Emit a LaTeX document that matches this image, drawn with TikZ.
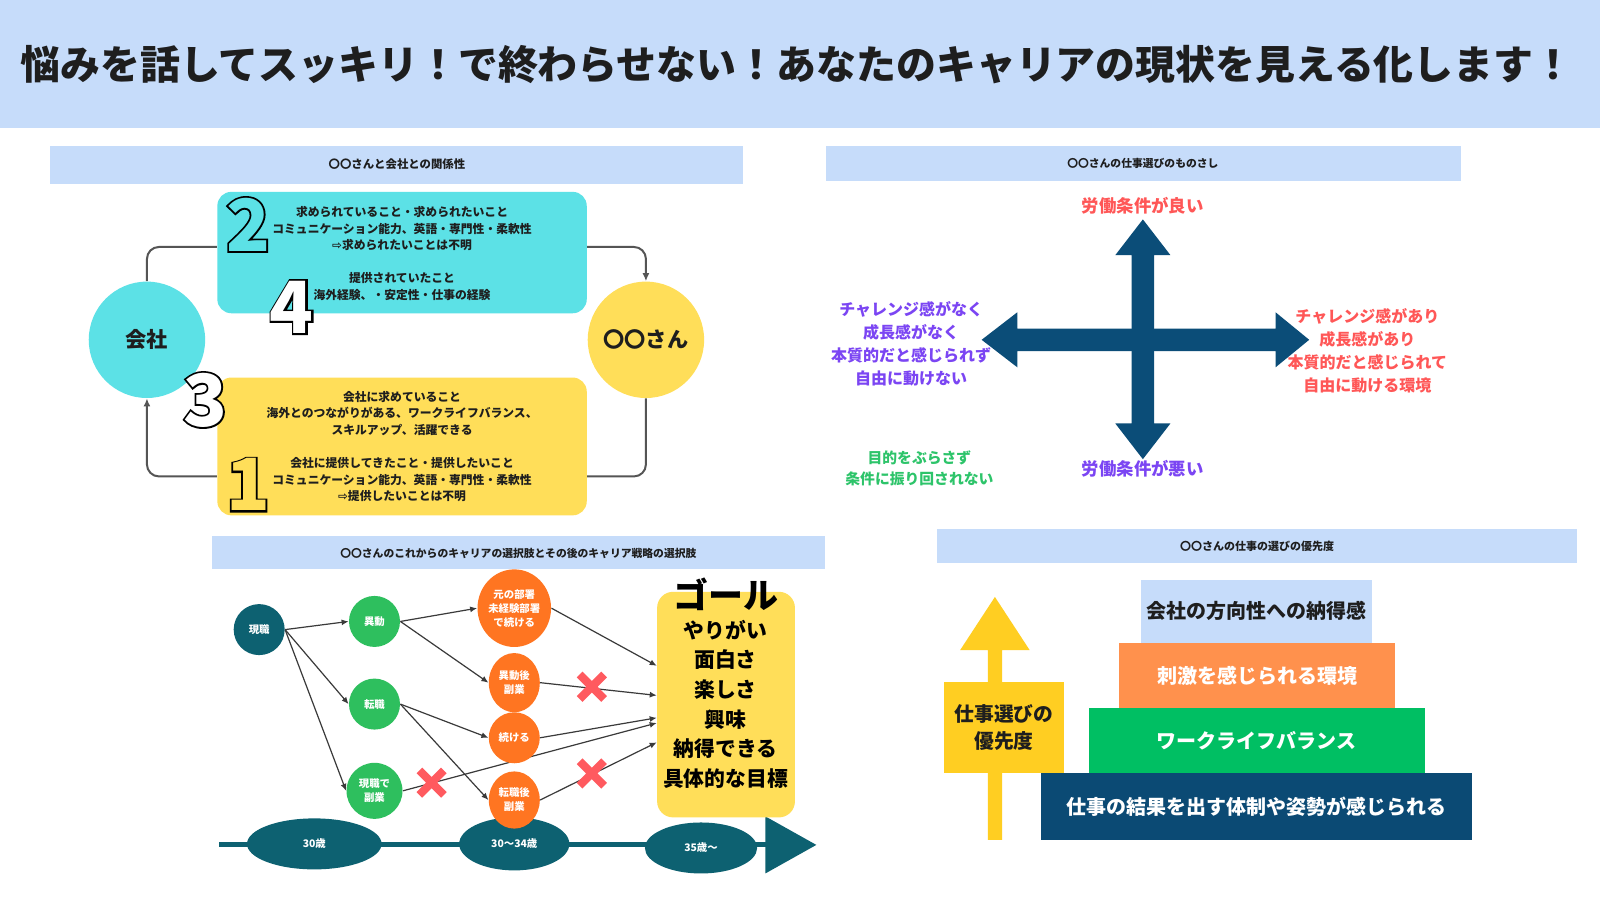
\documentclass[tikz,border=0pt]{standalone}
\usepackage{fontspec}
\setmainfont{Noto Sans CJK JP}
\newfontfamily\djv{DejaVu Sans}
\newfontfamily\digfnt{Noto Sans CJK JP}[BoldFeatures={FakeBold=5}]
\newfontfamily\digfil{Noto Sans CJK JP}
\usetikzlibrary{arrows.meta,shapes.geometric}
\definecolor{hdr}{HTML}{C6DCFA}
\definecolor{cyanC}{HTML}{5CE1E6}
\definecolor{yelC}{HTML}{FFDE59}
\definecolor{navyA}{HTML}{0B4D78}
\definecolor{redT}{HTML}{FF5757}
\definecolor{purT}{HTML}{7B45F3}
\definecolor{grnT}{HTML}{2DC46A}
\definecolor{tealC}{HTML}{0D6171}
\definecolor{grnC}{HTML}{2EBF5E}
\definecolor{orgC}{HTML}{FF7521}
\definecolor{xred}{HTML}{FF5A5F}
\definecolor{pyrO}{HTML}{FF914D}
\definecolor{pyrG}{HTML}{00BF63}
\definecolor{pyrN}{HTML}{0B4A74}
\definecolor{yarr}{HTML}{FFCE22}
\definecolor{lnG}{HTML}{555555}
\definecolor{flC}{HTML}{3A3A3A}
\definecolor{txtD}{HTML}{1E1E1E}
\newcommand\fsz[2]{\fontsize{#1}{#2}\selectfont}
\pgfdeclarelayer{bottom}
\pgfdeclarelayer{lines}
\pgfsetlayers{bottom,lines,main}
\tikzset{
  hdrtxt/.style={font=\fsz{5.7}{7}\bfseries, text=txtD, inner sep=0pt},
  boxtxt/.style={align=center, font=\fsz{5.9}{8.2}\bfseries, text=txtD, inner sep=0pt},
  conn/.style={draw=lnG, line width=1pt, rounded corners=6pt},
  connarr/.style={conn, -{Latex[length=4pt,width=3.5pt]}},
  bigcirc/.style={circle, minimum size=58.2pt, inner sep=0pt, font=\fsz{10.6}{12}\bfseries, text=txtD},
  digout/.style={font=\digfnt\fsz{36}{36}\bfseries, text=black, inner sep=0pt},
  digin/.style={font=\digfil\fsz{36}{36}\bfseries, inner sep=0pt},
  crosslbl/.style={align=center, font=\fsz{8}{11.5}\bfseries, inner sep=0pt},
  flow/.style={draw=flC, line width=0.6pt, -{Latex[length=3.5pt,width=3pt]}},
  smalltxt/.style={text=white, align=center, font=\fsz{5.2}{7}\bfseries, inner sep=0pt},
  gcirc/.style={circle, fill=grnC, minimum size=25.5pt, smalltxt},
  oell/.style={ellipse, fill=orgC, minimum width=25.5pt, minimum height=29.6pt, smalltxt},
  tell/.style={ellipse, fill=tealC, smalltxt},
  pyr/.style={rectangle, inner sep=0pt, font=\fsz{10}{12}\bfseries, text=white},
  xmk/.pic={\draw[xred, line width=4pt] (-12,-12) -- (12,12) (-12,12) -- (12,-12);}
}
\begin{document}
\begin{tikzpicture}[x=0.5102pt,y=-0.5102pt]
\useasboundingbox (0,0) rectangle (1568,882);
\begin{pgfonlayer}{bottom}
\fill[white] (0,0) rectangle (1568,882);
\fill[hdr] (0,0) rectangle (1568,125);
\fill[hdr] (49,143) rectangle (728,180);
\fill[hdr] (809,143) rectangle (1432,177);
\fill[hdr] (208,525) rectangle (808,558);
\fill[hdr] (918,518) rectangle (1545,552);
\end{pgfonlayer}

% title
\node[font=\fsz{19.95}{24}\bfseries, text=txtD, inner sep=0pt] (title) at (781,63) {悩みを話してスッキリ！で終わらせない！あなたのキャリアの現状を見える化します！};

% ---------- panel 1 ----------
\node[hdrtxt] (h1) at (389,161) {〇〇さんと会社との関係性};
\node[fill=cyanC, rounded corners=7pt, minimum width=184.7pt, minimum height=60.7pt, inner sep=0pt] (cbox) at (394,247.5) {};
\node[fill=yelC, rounded corners=7pt, minimum width=184.7pt, minimum height=68.9pt, inner sep=0pt] (ybox) at (394,437.5) {};
\node[boxtxt] (c1) at (394,224) {求められていること・求められたいこと\\コミュニケーション能力、英語・専門性・柔軟性\\{\djv ⇨}求められたいことは不明};
\node[boxtxt] (c2) at (394,281) {提供されていたこと\\海外経験、・安定性・仕事の経験};
\node[boxtxt] (y1) at (394,405) {会社に求めていること\\海外とのつながりがある、ワークライフバランス、\\スキルアップ、活躍できる};
\node[boxtxt] (y2) at (394,470) {会社に提供してきたこと・提供したいこと\\コミュニケーション能力、英語・専門性・柔軟性\\{\djv ⇨}提供したいことは不明};
\node[bigcirc, fill=cyanC] (kaisha) at (144,333) {会社};
\node[bigcirc, fill=yelC] (san) at (633,333) {〇〇さん};
\begin{pgfonlayer}{lines}
\draw[conn] (kaisha.north) |- ([yshift=2.8pt]cbox.west);
\draw[connarr] ([yshift=2.8pt]cbox.east) -| (san.north);
\draw[conn] (san.south) |- ([yshift=-15pt]ybox.east);
\draw[connarr] ([yshift=-15pt]ybox.west) -| (kaisha.south);
\end{pgfonlayer}
\node[digout] (d2o) at (243,220) {2};
\node[digin, text=cyanC] (d2) at (243,220) {2};
\node[digout] (d4o) at (286,301) {4};
\node[digin, text=white] (d4) at (286,301) {4};
\node[digout] (d3o) at (201,392) {3};
\node[digin, text=white] (d3) at (201,392) {3};
\node[digout] (d1o) at (243,475) {1};
\node[digin, text=yelC] (d1) at (243,475) {1};

% ---------- panel 2 ----------
\node[hdrtxt, font=\fsz{5.4}{7}\bfseries] (h2) at (1120,160) {〇〇さんの仕事選びのものさし};
\fill[navyA] (1120,215) -- (1147,250) -- (1131,250) -- (1131,415) -- (1147,415) -- (1120,450) -- (1093,415) -- (1109,415) -- (1109,250) -- (1093,250) -- cycle;
\fill[navyA] (962,333) -- (997,306) -- (997,322) -- (1250,322) -- (1250,306) -- (1283,333) -- (1250,360) -- (1250,344) -- (997,344) -- (997,360) -- cycle;
\node[crosslbl, font=\fsz{8.7}{11}\bfseries, text=redT] (good) at (1120,202) {労働条件が良い};
\node[crosslbl, font=\fsz{8.7}{11}\bfseries, text=purT] (bad) at (1120,459) {労働条件が悪い};
\node[crosslbl, text=purT] (leftl) at (893,337) {チャレンジ感がなく\\成長感がなく\\本質的だと感じられず\\自由に動けない};
\node[crosslbl, text=redT] (rightl) at (1340,344) {チャレンジ感があり\\成長感があり\\本質的だと感じられて\\自由に動ける環境};
\node[crosslbl, font=\fsz{7.4}{10.2}\bfseries, text=grnT] (grnl) at (901,459) {目的をぶらさず\\条件に振り回されない};

% ---------- panel 3 ----------
\node[hdrtxt, font=\fsz{5.4}{7}\bfseries] (h3) at (508,542) {〇〇さんのこれからのキャリアの選択肢とその後のキャリア戦略の選択肢};
\fill[tealC] (215,825.5) rectangle (752,830.5);
\fill[tealC] (750,800) -- (800,828) -- (750,856) -- cycle;
\node[tell, minimum width=67.3pt, minimum height=25.5pt] (t30) at (308,827) {30歳};
\node[tell, minimum width=55.1pt, minimum height=26.5pt] (t34) at (504,827) {30〜34歳};
\node[tell, minimum width=56.1pt, minimum height=25.5pt] (t35) at (687,831) {35歳〜};
\node[circle, fill=tealC, minimum size=25.5pt, smalltxt] (gen) at (254,617) {現職};
\node[gcirc] (idou) at (367,609) {異動};
\node[gcirc] (tensyoku) at (367,690) {転職};
\node[gcirc, minimum size=28pt] (fuku) at (367,775) {現職で\\副業};
\node[oell, minimum width=34.7pt, minimum height=38.8pt] (moto) at (504,596) {元の部署\\未経験部署\\で続ける};
\node[oell] (idoufuku) at (504,669) {異動後\\副業};
\node[oell, minimum height=25.5pt] (tsuzuke) at (504,723) {続ける};
\node[oell, minimum height=28.6pt] (tenfuku) at (504,784) {転職後\\副業};
\node[fill=yelC, rounded corners=8pt, minimum width=68.9pt, minimum height=112.8pt, inner sep=0pt] (goal) at (711.5,690.5) {};
\node[font=\fsz{17.5}{18}\bfseries, text=black, inner sep=0pt] (goalttl) at (711,582) {ゴール};
\node[align=center, font=\fsz{10.4}{14.8}\bfseries, text=black, inner sep=0pt] (goaltxt) at (711,690) {やりがい\\面白さ\\楽しさ\\興味\\納得できる\\具体的な目標};
\begin{pgfonlayer}{lines}
\draw[flow] (gen.east) -- (idou.west);
\draw[flow] (gen.east) -- (tensyoku.west);
\draw[flow] (gen.east) -- (fuku.west);
\draw[flow] (idou.east) -- (moto.west);
\draw[flow] (idou.east) -- (idoufuku.west);
\draw[flow] (tensyoku.east) -- (tsuzuke.west);
\draw[flow] (tensyoku.east) -- (tenfuku.west);
\draw[flow] (moto.east) -- ([yshift=19.4pt]goal.west);
\draw[flow] (idoufuku.east) -- ([yshift=4.6pt]goal.west);
\draw[flow] (tsuzuke.east) -- ([yshift=-6.6pt]goal.west);
\draw[flow] (fuku.east) -- ([yshift=-9.2pt]goal.west);
\draw[flow] (tenfuku.east) -- ([yshift=-18.9pt]goal.west);
\end{pgfonlayer}
\pic at (423,767) {xmk};
\pic at (580,673) {xmk};
\pic at (580,758) {xmk};

% ---------- panel 4 ----------
\node[hdrtxt, font=\fsz{5.5}{7}\bfseries] (h4) at (1232,535) {〇〇さんの仕事の選びの優先度};
\node[pyr, fill=hdr, text=txtD, minimum width=115.8pt, minimum height=31.6pt] (p1) at (1231.5,599) {会社の方向性への納得感};
\node[pyr, fill=pyrO, minimum width=137.8pt, minimum height=32.7pt] (p2) at (1232,662) {刺激を感じられる環境};
\node[pyr, fill=pyrG, minimum width=167.9pt, minimum height=32.7pt] (p3) at (1231.5,726) {ワークライフバランス};
\node[pyr, fill=pyrN, minimum width=215.8pt, minimum height=33.2pt] (p4) at (1231.5,790.5) {仕事の結果を出す体制や姿勢が感じられる};
\fill[yarr] (975,585) -- (1009,637) -- (982,637) -- (982,823) -- (968,823) -- (968,637) -- (941,637) -- cycle;
\node[fill=yarr, minimum width=60.2pt, minimum height=45.9pt, inner sep=0pt, align=center, font=\fsz{9.9}{13.8}\bfseries, text=txtD] (prio) at (984,713) {仕事選びの\\優先度};
\end{tikzpicture}
\end{document}
